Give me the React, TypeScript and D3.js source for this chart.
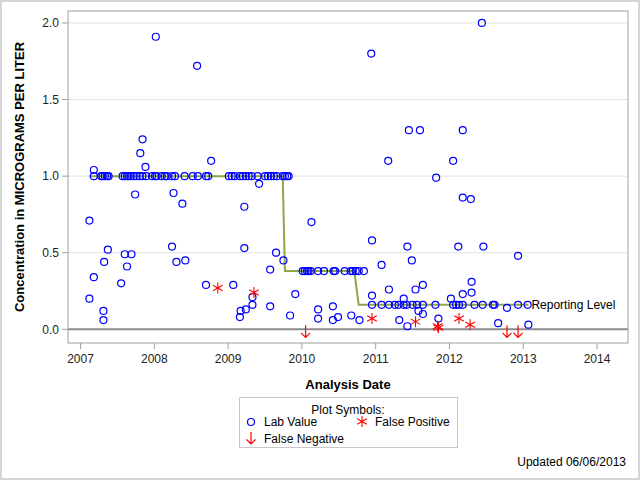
import React from "react";
import * as d3 from "d3";

// ---- Data (decimal years, micrograms per liter) ----
const lineLabDates = [
  2007.18, 2007.28, 2007.30, 2007.33, 2007.36, 2007.38, 2007.57, 2007.60, 2007.63, 2007.65,
  2007.68, 2007.72, 2007.76, 2007.80, 2007.84, 2007.89, 2007.97, 2008.01, 2008.03, 2008.10,
  2008.14, 2008.17, 2008.24, 2008.28, 2008.41, 2008.52, 2008.59, 2008.70, 2008.73, 2009.01,
  2009.05, 2009.09, 2009.16, 2009.20, 2009.24, 2009.28, 2009.32, 2009.40, 2009.50, 2009.54,
  2009.58, 2009.62, 2009.66, 2009.74, 2009.77, 2009.80, 2009.82,
  2010.01, 2010.04, 2010.07, 2010.09, 2010.12, 2010.22, 2010.30, 2010.43, 2010.45, 2010.58,
  2010.66, 2010.69, 2010.73, 2010.77, 2010.84,
  2010.95, 2011.08, 2011.18, 2011.26, 2011.31, 2011.38, 2011.42, 2011.50, 2011.56, 2011.64,
  2011.81, 2012.05, 2012.09, 2012.13, 2012.18, 2012.34, 2012.45, 2012.59, 2012.61, 2012.93,
  2013.06, 2012.78,
];
const lineLabValues = [
  1, 1, 1, 1, 1, 1, 1, 1, 1, 1, 1, 1, 1, 1, 1, 1, 1, 1, 1, 1,
  1, 1, 1, 1, 1, 1, 1, 1, 1, 1, 1, 1, 1, 1, 1, 1, 1, 1, 1, 1,
  1, 1, 1, 1, 1, 1, 1,
  0.38, 0.38, 0.38, 0.38, 0.38, 0.38, 0.38, 0.38, 0.38, 0.38,
  0.38, 0.38, 0.38, 0.38, 0.38,
  0.16, 0.16, 0.16, 0.16, 0.16, 0.16, 0.16, 0.16, 0.16, 0.16,
  0.16, 0.16, 0.16, 0.16, 0.16, 0.16, 0.16, 0.16, 0.16, 0.16,
  0.16, 0.14,
];

const otherLabDates = [
  2007.12, 2007.18, 2007.12, 2007.18, 2007.32, 2007.37, 2007.31, 2007.31, 2007.55, 2007.60,
  2007.69, 2007.63, 2007.74, 2007.81, 2007.84, 2007.88, 2008.02, 2008.26, 2008.38, 2008.24,
  2008.30, 2008.42, 2008.58, 2008.77, 2008.70, 2009.07, 2009.22, 2009.22, 2009.17, 2009.16,
  2009.24, 2009.33, 2009.33, 2009.42, 2009.57, 2009.57, 2009.65, 2009.75, 2009.84, 2009.91,
  2010.13, 2010.22, 2010.22, 2010.42, 2010.42, 2010.49, 2010.67, 2010.78, 2010.95, 2010.95,
  2010.94, 2011.17, 2011.08, 2011.18, 2011.38, 2011.43, 2011.49, 2011.54, 2011.64, 2011.58,
  2011.64, 2011.32, 2011.43, 2011.82, 2011.45, 2011.60, 2012.18, 2012.05, 2012.18, 2012.29,
  2012.44, 2012.12, 2012.46, 2012.93, 2012.30, 2012.30, 2012.18, 2012.02, 2011.85, 2012.66,
  2013.07,
];
const otherLabValues = [
  0.71, 1.04, 0.20, 0.34, 0.44, 0.52, 0.12, 0.06, 0.30, 0.49,
  0.49, 0.41, 0.88, 1.15, 1.24, 1.06, 1.91, 0.89, 0.82, 0.54,
  0.44, 0.45, 1.72, 1.10, 0.29, 0.29, 0.80, 0.53, 0.12, 0.08,
  0.13, 0.16, 0.21, 0.95, 0.39, 0.15, 0.50, 0.45, 0.09, 0.23,
  0.70, 0.13, 0.07, 0.15, 0.06, 0.08, 0.09, 0.06, 0.58, 0.22,
  1.80, 1.10, 0.42, 0.26, 0.20, 0.54, 0.45, 0.26, 0.29, 0.12,
  0.10, 0.06, 0.02, 0.99, 1.30, 1.30, 1.30, 1.10, 0.86, 0.85,
  2.00, 0.54, 0.54, 0.48, 0.31, 0.24, 0.23, 0.20, 0.07, 0.04,
  0.03,
];

const falsePositiveDates = [2008.86, 2009.35, 2010.95, 2011.54, 2011.84, 2011.85, 2012.13, 2012.28];
const falsePositiveValues = [0.27, 0.24, 0.07, 0.05, 0.02, 0.01, 0.07, 0.03];

const falseNegativeDates = [2010.05, 2012.78, 2012.93];
const falseNegativeValues = [0, 0, 0];

const reportingDates = [2007.12, 2009.74, 2009.77, 2010.71, 2010.77, 2013.07];
const reportingValues = [1.0, 1.0, 0.38, 0.38, 0.16, 0.16];

const xTickValues = [2007, 2008, 2009, 2010, 2011, 2012, 2013, 2014];
const yTickValues = [0, 0.5, 1.0, 1.5, 2.0];
const gridValues = [0.5, 1.0, 1.5, 2.0];

const FONT = "'Liberation Sans', Arial, Helvetica, sans-serif";

const W = 640;
const H = 480;
const plot = { left: 68, right: 628, top: 11, bottom: 343 };

const x = d3.scaleLinear().domain([2006.83, 2014.42]).range([plot.left, plot.right]);
const y = d3.scaleLinear().domain([-0.0894, 2.078]).range([plot.bottom, plot.top]);

const starPath = "M0,-5.5L0,5.5M-4.8,-2.75L4.8,2.75M-4.8,2.75L4.8,-2.75";
const arrowPath = "M0,-6L0,6M-4.5,1.5L0,6L4.5,1.5";

export default function App() {
  const labAll = [
    ...lineLabDates.map((d, i) => ({ d, v: lineLabValues[i] })),
    ...otherLabDates.map((d, i) => ({ d, v: otherLabValues[i] })),
  ];
  const fp = falsePositiveDates.map((d, i) => ({ d, v: falsePositiveValues[i] }));
  const fn = falseNegativeDates.map((d, i) => ({ d, v: falseNegativeValues[i] }));
  const rl = reportingDates.map((d, i) => ({ d, v: reportingValues[i] }));
  const linePath = d3
    .line<{ d: number; v: number }>()
    .x((p) => x(p.d))
    .y((p) => y(p.v))(rl) as string;

  const lastRl = rl[rl.length - 1];

  return (
    <svg
      width={W}
      height={H}
      style={{ position: "absolute", left: 0, top: 0, background: "#fff" }}
      fontFamily={FONT}
    >
      <rect x={0} y={0} width={W} height={H} fill="#fff" />
      <rect x={1} y={1} width={W - 2} height={H - 2} fill="none" stroke="#d6d6d6" strokeWidth={2} />

      {/* gridlines */}
      {gridValues.map((g) => (
        <line key={g} x1={plot.left} x2={plot.right} y1={y(g)} y2={y(g)} stroke="#e2e2e2" strokeWidth={1} />
      ))}
      {/* zero reference line */}
      <line x1={plot.left} x2={plot.right} y1={y(0)} y2={y(0)} stroke="#8c8c8c" strokeWidth={2} />

      {/* reporting level */}
      <path d={linePath} fill="none" stroke="#8ea646" strokeWidth={2} />
      <text x={x(lastRl.d) + 3} y={y(lastRl.v)} dy="0.35em" fontSize={12} fill="#000">
        Reporting Level
      </text>

      {/* lab values */}
      {labAll.map((p, i) => (
        <circle key={i} cx={x(p.d)} cy={y(p.v)} r={3.5} fill="none" stroke="#0000ff" strokeWidth={1.2} />
      ))}
      {/* false positives */}
      {fp.map((p, i) => (
        <path key={i} d={starPath} transform={`translate(${x(p.d)},${y(p.v)})`} stroke="#ff0000" strokeWidth={1.1} fill="none" />
      ))}
      {/* false negatives */}
      {fn.map((p, i) => (
        <path key={i} d={arrowPath} transform={`translate(${x(p.d)},${y(p.v) + 2})`} stroke="#ff0000" strokeWidth={1.2} fill="none" />
      ))}

      {/* frame */}
      <rect
        x={plot.left}
        y={plot.top}
        width={plot.right - plot.left}
        height={plot.bottom - plot.top}
        fill="none"
        stroke="#a0a0a0"
        strokeWidth={1}
      />

      {/* y axis */}
      {yTickValues.map((t) => (
        <g key={t}>
          <line x1={plot.left - 6} x2={plot.left} y1={y(t)} y2={y(t)} stroke="#a0a0a0" />
          <text x={plot.left - 9} y={y(t)} dy="0.35em" textAnchor="end" fontSize={12} fill="#222">
            {d3.format(".1f")(t)}
          </text>
        </g>
      ))}
      <text
        transform={`translate(24,${(plot.top + plot.bottom) / 2}) rotate(-90)`}
        textAnchor="middle"
        fontSize={13}
        fontWeight="bold"
        fill="#000"
      >
        Concentration in MICROGRAMS PER LITER
      </text>

      {/* x axis */}
      {xTickValues.map((t) => (
        <g key={t}>
          <line x1={x(t)} x2={x(t)} y1={plot.bottom} y2={plot.bottom + 6} stroke="#a0a0a0" />
          <text x={x(t)} y={plot.bottom + 20} textAnchor="middle" fontSize={12} fill="#222">
            {d3.format("d")(t)}
          </text>
        </g>
      ))}
      <text x={(plot.left + plot.right) / 2} y={389} textAnchor="middle" fontSize={13} fontWeight="bold" fill="#000">
        Analysis Date
      </text>

      {/* legend */}
      <rect x={239.5} y={397.5} width={218} height={50} fill="none" stroke="#c8c8c8" />
      <text x={348} y={409.5} dy="0.35em" textAnchor="middle" fontSize={12} fill="#000">
        Plot Symbols:
      </text>
      <circle cx={251} cy={422} r={3.5} fill="none" stroke="#0000ff" strokeWidth={1.2} />
      <text x={264} y={422} dy="0.35em" fontSize={12} fill="#000">Lab Value</text>
      <path d={starPath} transform="translate(362,421.5)" stroke="#ff0000" strokeWidth={1.1} fill="none" />
      <text x={375} y={422} dy="0.35em" fontSize={12} fill="#000">False Positive</text>
      <path d={arrowPath} transform="translate(251,438)" stroke="#ff0000" strokeWidth={1.2} fill="none" />
      <text x={264} y={438.5} dy="0.35em" fontSize={12} fill="#000">False Negative</text>

      <text x={626} y={462} dy="0.35em" textAnchor="end" fontSize={12} fill="#000">
        Updated 06/06/2013
      </text>
    </svg>
  );
}
